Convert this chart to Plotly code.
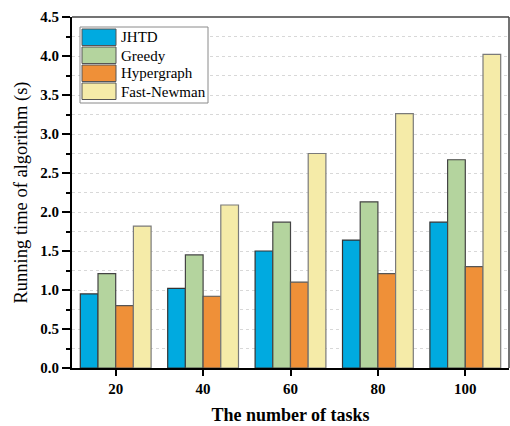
import plotly.graph_objects as go

tasks = ["20", "40", "60", "80", "100"]
jhtd = [0.95, 1.02, 1.50, 1.64, 1.87]
greedy = [1.21, 1.45, 1.87, 2.13, 2.67]
hypergraph = [0.80, 0.92, 1.10, 1.21, 1.30]
fast_newman = [1.82, 2.09, 2.75, 3.26, 4.02]

series_names = ["JHTD", "Greedy", "Hypergraph", "Fast-Newman"]
series_values = [jhtd, greedy, hypergraph, fast_newman]
fill_colors = ["#00AAE0", "#B4D49E", "#EF9038", "#F5EBA8"]
edge_colors = ["#333333", "#444444", "#555555", "#7a7a7a"]

SERIF = "Liberation Serif"

fig = go.Figure()
for name, vals, color, edge in zip(series_names, series_values, fill_colors, edge_colors):
    fig.add_trace(go.Bar(
        x=tasks, y=vals, name=name, showlegend=False,
        marker=dict(color=color, line=dict(color=edge, width=1.2)),
    ))

# plotting-area geometry in pixels (used to place the legend box)
W, H = 510, 426
L, R, T, B = 72, 1, 17, 58
pw, ph = W - L - R, H - T - B

def px(x):
    return (x - L) / pw

def py(y):
    return (H - B - y) / ph

# legend: framed box with wide colour swatches
shapes = [dict(type="rect", xref="paper", yref="paper",
               x0=px(80), x1=px(208), y0=py(103), y1=py(27),
               fillcolor="white", line=dict(color="#8a8a8a", width=1), layer="above")]
annotations = []
row_tops = [29, 47, 65, 83]
for i, name in enumerate(series_names):
    top = row_tops[i]
    shapes.append(dict(type="rect", xref="paper", yref="paper",
                       x0=px(82), x1=px(116), y0=py(top + 16.5), y1=py(top),
                       fillcolor=fill_colors[i], line=dict(color="#555555", width=1), layer="above"))
    annotations.append(dict(xref="paper", yref="paper", x=px(119), y=py(top + 8.5),
                            xanchor="left", yanchor="middle", showarrow=False,
                            text=name, font=dict(family=SERIF, size=15, color="black")))

# frame lines along the top and right of the plotting area
shapes.append(dict(type="line", xref="paper", yref="paper", x0=0, x1=1, y0=1, y1=1,
                   line=dict(color="#444444", width=1.5)))
shapes.append(dict(type="line", xref="paper", yref="paper", x0=1, x1=1, y0=0, y1=1,
                   line=dict(color="#444444", width=1.5)))

fig.update_layout(
    width=W, height=H,
    margin=dict(l=L, r=R, t=T, b=B),
    paper_bgcolor="white", plot_bgcolor="white",
    barmode="group", bargap=0.19, bargroupgap=0,
    font=dict(family=SERIF, color="black"),
    shapes=shapes, annotations=annotations,
    xaxis=dict(
        type="category", range=[-0.5, 4.5],
        showline=True, linecolor="black", linewidth=2,
        ticks="outside", ticklen=6, tickwidth=1.5, tickcolor="black",
        tickfont=dict(family=SERIF, size=15, color="black", weight="bold"),
        title=dict(text="The number of tasks",
                   font=dict(family=SERIF, size=18, color="black", weight="bold"), standoff=12),
    ),
    yaxis=dict(
        range=[0, 4.5], dtick=0.5, tickformat=".1f",
        showline=True, linecolor="black", linewidth=2,
        ticks="outside", ticklen=8, tickwidth=1.5, tickcolor="black",
        tickfont=dict(family=SERIF, size=15, color="black", weight="bold"),
        showgrid=True, gridcolor="#d8d8d8", griddash="dot", gridwidth=1,
        minor=dict(dtick=0.25, ticks="outside", ticklen=4, tickcolor="black", tickwidth=1.5,
                   showgrid=True, gridcolor="#d8d8d8", griddash="dot", gridwidth=1),
        zeroline=False,
        title=dict(text="Running time of algorithm (s)",
                   font=dict(family=SERIF, size=18.5, color="black"), standoff=8),
    ),
)

fig.write_html("out.html")
